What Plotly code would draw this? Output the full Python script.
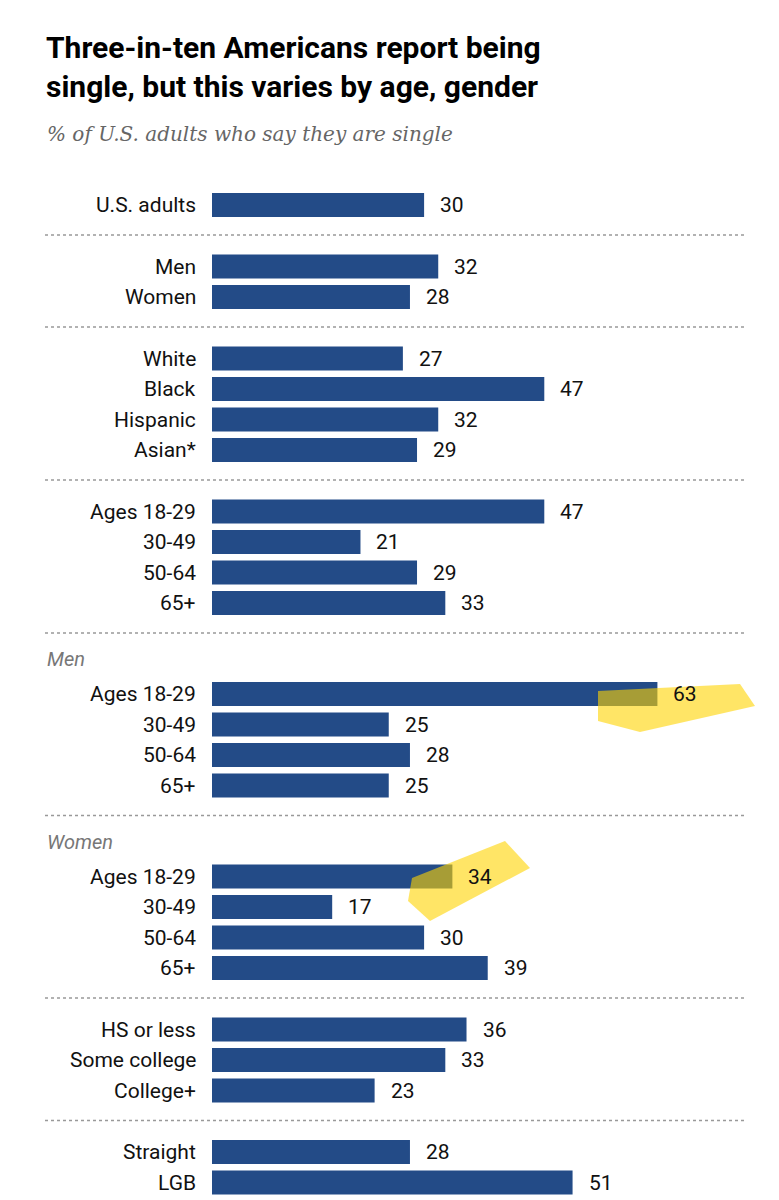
import plotly.graph_objects as go

# groups of rows; None header = no header
groups = [
    (None, ["U.S. adults"], [30]),
    (None, ["Men", "Women"], [32, 28]),
    (None, ["White", "Black", "Hispanic", "Asian*"], [27, 47, 32, 29]),
    (None, ["Ages 18-29", "30-49", "50-64", "65+"], [47, 21, 29, 33]),
    ("Men", ["Ages 18-29", "30-49", "50-64", "65+"], [63, 25, 28, 25]),
    ("Women", ["Ages 18-29", "30-49", "50-64", "65+"], [34, 17, 30, 39]),
    (None, ["HS or less", "Some college", "College+"], [36, 33, 23]),
    (None, ["Straight", "LGB"], [28, 51]),
]

BAR = "#234b87"
FONT = "Roboto"
PITCH = 30.5
px_per_unit = 7.07
OFF = 8  # page body margin
x0_px = 212 - OFF

labels, values, ys, seps, headers = [], [], [], [], []
y = 189
for gi, (head, cats, vals) in enumerate(groups):
    if head:
        headers.append((head, y - 35))
    for c, v in zip(cats, vals):
        labels.append(c)
        values.append(v)
        ys.append(y)
        y += PITCH
    last = y - PITCH
    seps.append(last + 30)
    if gi + 1 < len(groups):
        y = last + (91 if groups[gi + 1][0] else 61.5)

fig = go.Figure(go.Bar(x=values, y=ys, orientation="h", width=24,
                       marker=dict(color=BAR, line=dict(width=0)), hoverinfo="skip"))


def px(x):
    return (x - OFF - x0_px) / px_per_unit


ann = []
for lab, v, yy in zip(labels, values, ys):
    ann.append(dict(x=0, y=yy, text=lab, xanchor="right", xshift=-14, showarrow=False,
                    font=dict(family=FONT, size=21, color="#111")))
    ann.append(dict(x=v, y=yy, text=str(v), xanchor="left", xshift=14, showarrow=False,
                    font=dict(family=FONT, size=21, color="#111")))
for h, yy in headers:
    ann.append(dict(x=px(45), y=yy, text=f"<i>{h}</i>", xanchor="left", showarrow=False,
                    font=dict(family=FONT, size=20, color="#777")))

ann.append(dict(x=px(44), y=12, xanchor="left", yanchor="top",
                align="left", showarrow=False,
                text="<b>Three-in-ten Americans report being<br>single, but this varies by age, gender</b>",
                font=dict(family=FONT, size=30, color="#000")))
ann.append(dict(x=px(45), y=118, xanchor="left", yanchor="middle",
                showarrow=False, text="<i>% of U.S. adults who say they are single</i>",
                font=dict(family="DejaVu Serif", size=20, color="#666")))

xmin = -x0_px / px_per_unit
xmax = (779 - x0_px) / px_per_unit

shapes = [dict(type="line", x0=px(45), x1=px(745), y0=s, y1=s,
               line=dict(color="#999", width=1.5, dash="dot")) for s in seps]
shapes.append(dict(type="path", layer="above", line=dict(width=0),
                   fillcolor="rgba(255,212,0,0.6)",
                   path=f"M {px(598)},675 L {px(740)},668 L {px(755)},690 L {px(640)},716 L {px(598)},705 Z"))
shapes.append(dict(type="path", layer="above", line=dict(width=0),
                   fillcolor="rgba(255,212,0,0.6)",
                   path=f"M {px(412)},862 L {px(505)},825 L {px(530)},852 L {px(430)},905 L {px(408)},885 Z"))

fig.update_layout(
    width=779, height=1200, margin=dict(l=0, r=0, t=0, b=0),
    plot_bgcolor="white", paper_bgcolor="white", showlegend=False,
    xaxis=dict(range=[xmin, xmax], visible=False, fixedrange=True),
    yaxis=dict(range=[1200 - OFF, -OFF], visible=False, fixedrange=True),
    annotations=ann, shapes=shapes,
)

fig.write_html("out.html")
